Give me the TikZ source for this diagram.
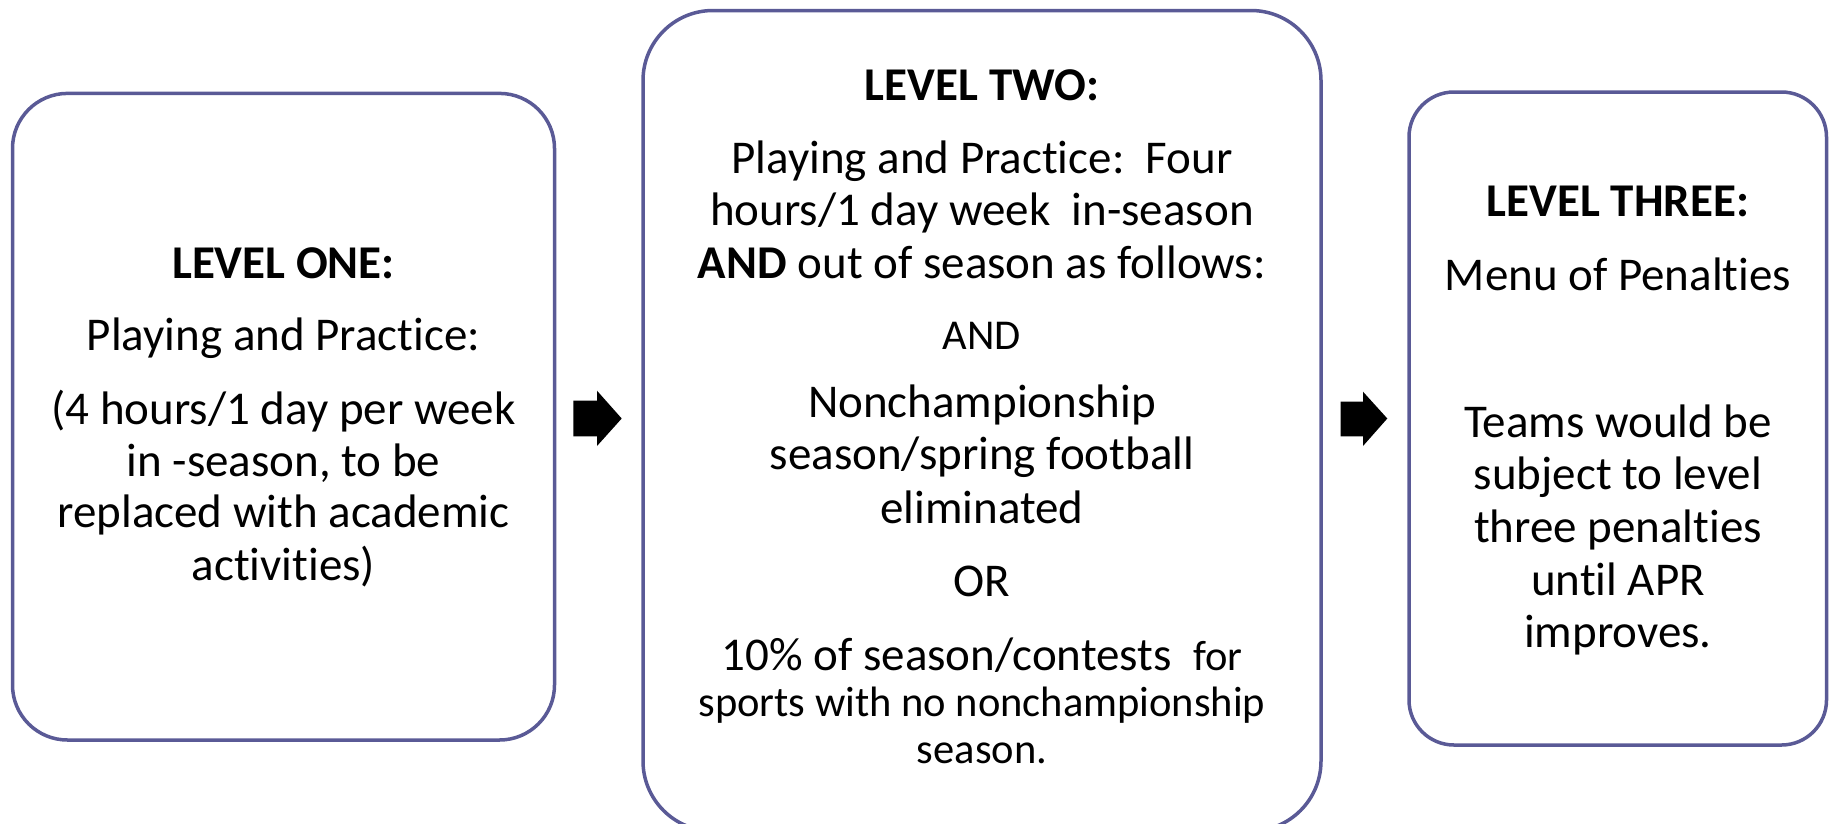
\documentclass[tikz,border=0pt]{standalone}
\usepackage{fontspec}
\setmainfont{Carlito}[Ligatures=NoCommon]
\definecolor{boxline}{RGB}{90,90,150}
\begin{document}
\begin{tikzpicture}[x=1pt,y=-1pt,
  levelbox/.style={draw=boxline, line width=3.5pt, rectangle, inner sep=0pt},
  txt/.style={anchor=base, inner sep=0pt, font=\fontsize{47}{52}\selectfont},
  smalltxt/.style={anchor=base, inner sep=0pt, font=\fontsize{42.5}{47}\selectfont},
  blockarrow/.style={fill=black}]
\useasboundingbox (0,0) rectangle (1831,823);
% boxes
\node[levelbox, rounded corners=55pt, minimum width=542pt, minimum height=646.6pt] (box1) at (283.5,416.7) {};
\node[levelbox, rounded corners=70pt, minimum width=678pt, minimum height=820.5pt] (box2) at (982,420.75) {};
\node[levelbox, rounded corners=45pt, minimum width=417.5pt, minimum height=653pt] (box3) at (1617.75,418.5) {};
% arrows
\coordinate (arr1) at (573.3,418.5);
\coordinate (arr2) at (1340.7,418.5);
\fill[blockarrow] (arr1) ++(0,-18) -- ++(23.7,0) -- ++(0,-9.8) -- ++(24.7,27.8) -- ++(-24.7,27.5) -- ++(0,-9.7) -- ++(-23.7,0) -- cycle;
\fill[blockarrow] (arr2) ++(0,-17) -- ++(22.3,0) -- ++(0,-9.8) -- ++(24.3,26.8) -- ++(-24.3,27.5) -- ++(0,-9.7) -- ++(-22.3,0) -- cycle;
% box 1 text
\node[txt] (t1a) at (283.5,278) {\bfseries LEVEL ONE:};
\node[txt] (t1b) at (283.5,350.7) {Playing and Practice:};
\node[txt] (t1c) at (283.5,424) {(4 hours/1 day per week};
\node[txt] (t1d) at (283.5,476.6) {in -season, to be};
\node[txt] (t1e) at (283.5,527.6) {replaced with academic};
\node[txt] (t1f) at (283.5,580) {activities)};
% box 2 text
\node[txt] (t2a) at (982,100.8) {\bfseries LEVEL TWO:};
\node[txt] (t2b) at (982,173.2) {Playing and Practice:\ \ Four};
\node[txt] (t2c) at (982,225.7) {hours/1 day week\ \ in-season};
\node[txt] (t2d) at (982,278.2) {\textbf{AND} out of season as follows:};
\node[smalltxt] (t2e) at (982,349) {AND};
\node[txt] (t2f) at (982,417.3) {Nonchampionship};
\node[txt] (t2g) at (982,469.8) {season/spring football};
\node[txt] (t2h) at (982,523.4) {eliminated};
\node[txt] (t2i) at (982,596.9) {OR};
\node[txt] (t2j) at (982,670.9) {10\% of season/contests\ \ {\fontsize{42.5}{47}\selectfont for}};
\node[smalltxt] (t2k) at (982,716.5) {sports with no nonchampionship};
\node[smalltxt] (t2l) at (982,763.8) {season.};
% box 3 text
\node[txt] (t3a) at (1618,216.3) {\bfseries LEVEL THREE:};
\node[txt] (t3b) at (1618,290.3) {Menu of Penalties};
\node[txt] (t3c) at (1618,437.3) {Teams would be};
\node[txt] (t3d) at (1618,489.8) {subject to level};
\node[txt] (t3e) at (1618,542.3) {three penalties};
\node[txt] (t3f) at (1618,595.8) {until APR};
\node[txt] (t3g) at (1618,647.2) {improves.};
\end{tikzpicture}
\end{document}
